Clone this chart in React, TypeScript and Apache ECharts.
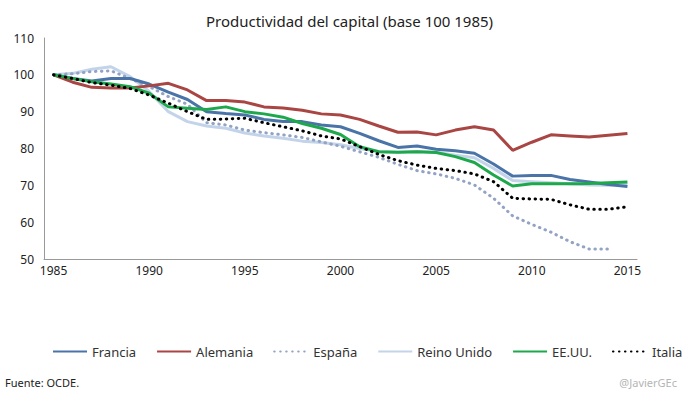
import React, { useEffect, useRef } from "react";
import * as echarts from "echarts";

const years: string[] = [];
for (let y = 1985; y <= 2015; y++) years.push(String(y));

const francia = [100, 99.0, 98.3, 99.0, 99.0, 97.5, 95.3, 93.3, 90.0, 89.5, 89.1, 87.9, 87.3, 87.3, 86.4, 85.9, 84.1, 82.1, 80.3, 80.7, 79.8, 79.4, 78.7, 75.8, 72.5, 72.7, 72.7, 71.6, 70.9, 70.2, 69.7];
const alemania = [100, 98.0, 96.6, 96.4, 96.4, 97.0, 97.7, 95.9, 93.0, 93.0, 92.6, 91.3, 91.0, 90.4, 89.4, 89.1, 87.9, 86.1, 84.4, 84.5, 83.7, 85.0, 85.9, 85.0, 79.5, 81.7, 83.7, 83.4, 83.1, 83.6, 84.1];
const espana: (number | null)[] = [100, 100.3, 100.9, 101.1, 99.0, 96.8, 94.1, 92.0, 87.0, 86.4, 85.0, 84.3, 83.7, 83.0, 81.8, 80.6, 79.1, 77.6, 75.7, 74.0, 73.1, 71.9, 70.1, 66.5, 61.7, 59.4, 57.3, 54.7, 52.7, 52.7, null];
const reinoUnido = [100, 100.4, 101.5, 102.2, 99.5, 95.5, 90.0, 87.3, 86.1, 85.5, 84.2, 83.4, 82.8, 82.0, 81.6, 81.0, 80.0, 79.2, 79.0, 79.2, 79.0, 78.2, 77.5, 74.6, 71.3, 71.0, 70.7, 70.4, 70.1, 70.0, 70.2];
const eeuu = [100, 99.0, 98.1, 97.5, 96.8, 95.0, 91.3, 90.9, 90.6, 91.3, 90.0, 89.4, 88.5, 86.8, 85.5, 83.8, 80.5, 79.1, 79.0, 79.1, 78.9, 77.8, 76.2, 72.8, 69.8, 70.4, 70.4, 70.4, 70.5, 70.7, 70.9];
const italia = [100, 99.0, 97.9, 97.2, 96.3, 94.5, 92.3, 90.0, 87.9, 88.0, 88.2, 87.0, 85.9, 84.8, 83.4, 82.6, 80.5, 78.4, 76.7, 75.5, 74.6, 74.0, 73.1, 71.0, 66.5, 66.3, 66.2, 64.7, 63.5, 63.5, 64.2];

const FONT = "'Noto Sans', sans-serif";
const DOTS = [0.5, 5.5];

export default function App() {
  const ref = useRef<HTMLDivElement>(null);
  useEffect(() => {
    if (!ref.current) return;
    const chart = echarts.init(ref.current, null, { renderer: "svg" });
    const mk = (name: string, data: (number | null)[], color: string, type: any, width = 3, z = 2) => ({
      name,
      type: "line",
      data,
      symbol: "none",
      showSymbol: false,
      z,
      lineStyle: { color, width, type, cap: type === "solid" ? "butt" : "round" },
      itemStyle: { color },
    });
    chart.setOption({
      animation: false,
      backgroundColor: "#ffffff",
      textStyle: { fontFamily: FONT },
      title: {
        text: "Productividad del capital (base 100 1985)",
        left: "center",
        top: 8,
        textStyle: { fontFamily: FONT, fontSize: 15, fontWeight: "normal", color: "#222" },
      },
      grid: { left: 44, right: 62, top: 38, bottom: 138 },
      legend: {
        left: 47,
        top: 340,
        itemWidth: 34,
        itemHeight: 3,
        itemGap: 20,
        itemStyle: { opacity: 0 },
        textStyle: { fontFamily: FONT, fontSize: 13, color: "#333" },
        data: ["Francia", "Alemania", "España", "Reino Unido", "EE.UU.", "Italia"],
      },
      xAxis: {
        type: "category",
        data: years,
        boundaryGap: true,
        axisLine: { lineStyle: { color: "#999", width: 1 } },
        axisTick: { show: false },
        axisLabel: { interval: 4, color: "#222", fontSize: 12, fontFamily: FONT, margin: 5 },
        splitLine: { show: false },
      },
      yAxis: {
        type: "value",
        min: 50,
        max: 110,
        interval: 10,
        axisLine: { show: true, lineStyle: { color: "#999", width: 1 } },
        axisTick: { show: false },
        axisLabel: { color: "#222", fontSize: 12, fontFamily: FONT, margin: 10 },
        splitLine: { show: false },
      },
      series: [
        mk("Reino Unido", reinoUnido, "#c3d4ea", "solid", 3, 1),
        mk("Francia", francia, "#4a74a8", "solid", 3, 3),
        mk("Alemania", alemania, "#a94644", "solid", 3, 3),
        mk("España", espana, "#93a3c3", DOTS, 3, 2),
        mk("EE.UU.", eeuu, "#1ea84c", "solid", 3, 4),
        mk("Italia", italia, "#000000", DOTS, 3, 5),
      ],
      graphic: [
        { type: "text", left: 5, top: 377, style: { text: "Fuente: OCDE.", fontFamily: FONT, fontSize: 11, fill: "#222" } },
        { type: "text", right: 22, top: 377, style: { text: "@JavierGEc", fontFamily: FONT, fontSize: 11, fill: "#b5b5b5" } },
      ],
    });
    return () => chart.dispose();
  }, []);
  return <div ref={ref} style={{ width: 699, height: 397, position: "absolute", left: 0, top: 0 }} />;
}
